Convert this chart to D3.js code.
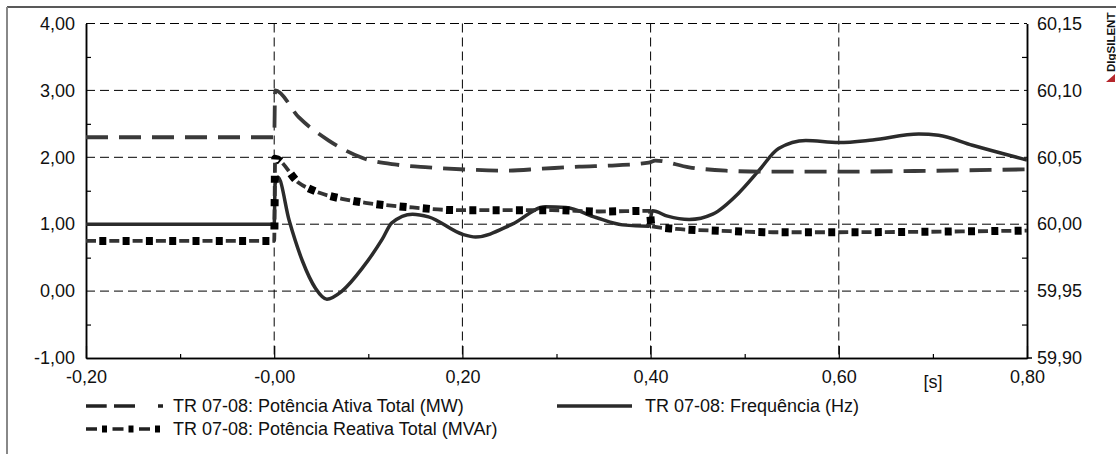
<!DOCTYPE html>
<html>
<head>
<meta charset="utf-8">
<script src="https://cdn.jsdelivr.net/npm/d3@7"></script>
<style>
  body { margin: 0; background: #fff; }
  svg text { font-family: "Liberation Sans", Arial, sans-serif; fill: #111; }
</style>
</head>
<body>
<svg id="chart" width="1116" height="454"></svg>
<script>
// time axis (s)
const xTicks = [-0.2, 0, 0.2, 0.4, 0.6, 0.8];
const xTickLabels = ["-0,20", "-0,00", "0,20", "0,40", "0,60", "0,80"];
const xUnitLabel = "[s]";

// left axis (MW / MVAr)
const leftTicks = [-1, 0, 1, 2, 3, 4];
const leftTickLabels = ["-1,00", "0,00", "1,00", "2,00", "3,00", "4,00"];

// right axis (Hz)
const rightTicks = [59.90, 59.95, 60.00, 60.05, 60.10, 60.15];
const rightTickLabels = ["59,90", "59,95", "60,00", "60,05", "60,10", "60,15"];

// TR 07-08: Potência Ativa Total (MW)
const ativaT  = [-0.2, 0, 0.001, 0.026, 0.058, 0.094, 0.13, 0.164, 0.207, 0.246, 0.285, 0.324, 0.363, 0.398, 0.405, 0.441, 0.48, 0.518, 0.6, 0.68, 0.8];
const ativaMW = [2.30, 2.30, 3.00, 2.60, 2.25, 1.99, 1.89, 1.85, 1.815, 1.80, 1.83, 1.86, 1.88, 1.92, 1.95, 1.85, 1.80, 1.785, 1.785, 1.795, 1.82];

// TR 07-08: Potência Reativa Total (MVAr)
const reativaT    = [-0.2, 0, 0.001, 0.026, 0.048, 0.072, 0.097, 0.122, 0.147, 0.194, 0.25, 0.295, 0.345, 0.399, 0.401, 0.427, 0.476, 0.53, 0.6, 0.678, 0.777, 0.8];
const reativaMVAr = [0.75, 0.75, 1.98, 1.62, 1.47, 1.38, 1.32, 1.28, 1.25, 1.21, 1.21, 1.21, 1.19, 1.20, 0.97, 0.93, 0.90, 0.88, 0.88, 0.885, 0.90, 0.905];

// TR 07-08: Frequência (Hz)
const freqT  = [-0.2, 0, 0.001, 0.004, 0.016, 0.03, 0.044, 0.056, 0.072, 0.094, 0.115, 0.125, 0.147, 0.164, 0.2, 0.214, 0.253, 0.288, 0.31, 0.342, 0.37, 0.398, 0.402, 0.418, 0.441, 0.466, 0.494, 0.515, 0.536, 0.565, 0.6, 0.636, 0.685, 0.706, 0.742, 0.8];
const freqHz = [60.0, 60.0, 60.030, 60.035, 60.0025, 59.9725, 59.952, 59.944, 59.950, 59.9675, 59.989, 60.001, 60.0075, 60.0055, 59.9925, 59.9905, 60.0, 60.013, 60.0125, 60.005, 59.9995, 59.9985, 60.010, 60.006, 60.0035, 60.0075, 60.0235, 60.040, 60.0565, 60.0625, 60.061, 60.063, 60.0675, 60.0665, 60.059, 60.048];

const legendLabels = [
  "TR 07-08: Potência Ativa Total (MW)",
  "TR 07-08: Frequência (Hz)",
  "TR 07-08: Potência Reativa Total (MVAr)"
];

let svg = d3.select("#chart");

let plotLeft = 86, plotRight = 1027, plotTop = 23.5, plotBottom = 358;

let xscale = d3.scaleLinear().domain([-0.2, 0.8]).range([plotLeft, plotRight]);
let yLeft = d3.scaleLinear().domain([-1, 4]).range([plotBottom, plotTop]);
let yRight = d3.scaleLinear().domain([59.90, 60.15]).range([plotBottom, plotTop]);

// outer frame (top and left edges only)
svg.append("line")
   .attr("x1", 7).attr("x2", 1116).attr("y1", 7).attr("y2", 7)
   .attr("stroke", "#222").attr("stroke-width", 1.5);
svg.append("line")
   .attr("x1", 7).attr("x2", 7).attr("y1", 7).attr("y2", 454)
   .attr("stroke", "#888").attr("stroke-width", 2);

// grid
let grid = svg.append("g").attr("stroke", "#000").attr("stroke-width", 1).attr("stroke-dasharray", "9,5");
grid.selectAll(".hgrid")
    .data(leftTicks.filter(d => d > -1))
    .enter().append("line")
    .attr("class", "hgrid")
    .attr("x1", plotLeft).attr("x2", plotRight)
    .attr("y1", d => yLeft(d)).attr("y2", d => yLeft(d));
grid.selectAll(".vgrid")
    .data(xTicks.filter(d => d > -0.2 && d < 0.8))
    .enter().append("line")
    .attr("class", "vgrid")
    .attr("x1", d => xscale(d)).attr("x2", d => xscale(d))
    .attr("y1", plotTop).attr("y2", plotBottom);

// axes
let xaxis = d3.axisBottom(xscale)
              .tickValues(xTicks)
              .tickFormat((d, i) => xTickLabels[i])
              .tickSizeInner(-12)
              .tickSizeOuter(0)
              .tickPadding(12);
let xminor = d3.axisBottom(xscale)
               .tickValues([-0.1, 0.1, 0.3, 0.5, 0.7])
               .tickFormat("")
               .tickSizeInner(-4)
               .tickSizeOuter(0);
let yaxisL = d3.axisLeft(yLeft)
               .tickValues(leftTicks)
               .tickFormat((d, i) => leftTickLabels[i])
               .tickSizeInner(0)
               .tickSizeOuter(0)
               .tickPadding(11);
let yminorL = d3.axisLeft(yLeft)
                .tickValues([-0.5, 0.5, 1.5, 2.5, 3.5])
                .tickFormat("")
                .tickSizeInner(-5)
                .tickSizeOuter(0);
let yaxisR = d3.axisRight(yRight)
               .tickValues(rightTicks)
               .tickFormat((d, i) => rightTickLabels[i])
               .tickSizeInner(0)
               .tickSizeOuter(0)
               .tickPadding(10);
let yminorR = d3.axisRight(yRight)
                .tickValues([59.925, 59.975, 60.025, 60.075, 60.125])
                .tickFormat("")
                .tickSizeInner(-5)
                .tickSizeOuter(0);

function styleAxis(g) {
  g.select(".domain").attr("stroke", "#000").attr("stroke-width", 1.5);
  g.selectAll(".tick line").attr("stroke", "#000").attr("stroke-width", 1.2);
  g.selectAll(".tick text")
   .attr("font-size", 18)
   .attr("font-family", "'Liberation Sans', Arial, sans-serif")
   .attr("fill", "#111");
}

svg.append("g").attr("transform", `translate(0,${plotBottom})`).call(xaxis).call(styleAxis);
svg.append("g").attr("transform", `translate(0,${plotBottom})`).call(xminor).call(styleAxis);
svg.append("g").attr("transform", `translate(${plotLeft},0)`).call(yaxisL).call(styleAxis);
svg.append("g").attr("transform", `translate(${plotLeft},0)`).call(yminorL).call(styleAxis);
svg.append("g").attr("transform", `translate(${plotRight},0)`).call(yaxisR).call(styleAxis);
svg.append("g").attr("transform", `translate(${plotRight},0)`).call(yminorR).call(styleAxis);

// small outward tick at the bottom right corner
svg.append("line")
   .attr("x1", plotRight).attr("x2", plotRight + 5)
   .attr("y1", yRight(59.90)).attr("y2", yRight(59.90))
   .attr("stroke", "#000").attr("stroke-width", 1.5);

// unit label of the time axis
svg.append("text")
   .attr("x", xscale(0.7)).attr("y", plotBottom + 30)
   .attr("text-anchor", "middle")
   .attr("font-size", 18)
   .text(xUnitLabel);

// curves
svg.append("clipPath").attr("id", "plotClip")
   .append("rect")
   .attr("x", plotLeft).attr("y", plotTop - 4)
   .attr("width", plotRight - plotLeft).attr("height", plotBottom - plotTop + 8);

let curves = svg.append("g").attr("clip-path", "url(#plotClip)");

let lineLeft = d3.line()
                 .x(d => xscale(d[0]))
                 .y(d => yLeft(d[1]))
                 .curve(d3.curveMonotoneX);
let lineRight = d3.line()
                  .x(d => xscale(d[0]))
                  .y(d => yRight(d[1]))
                  .curve(d3.curveMonotoneX);

let ativaData = ativaT.map((t, i) => [t, ativaMW[i]]);
let reativaData = reativaT.map((t, i) => [t, reativaMVAr[i]]);
let freqData = freqT.map((t, i) => [t, freqHz[i]]);

curves.append("path")
      .datum(freqData)
      .attr("d", lineRight)
      .attr("fill", "none")
      .attr("stroke", "#2b2b2b")
      .attr("stroke-width", 3.5);

curves.append("path")
      .datum(ativaData)
      .attr("d", lineLeft)
      .attr("fill", "none")
      .attr("stroke", "#3a3a3a")
      .attr("stroke-width", 3.8)
      .attr("stroke-dasharray", "22,11");

curves.append("path")
      .datum(reativaData)
      .attr("d", lineLeft)
      .attr("fill", "none")
      .attr("stroke", "#333")
      .attr("stroke-width", 3.8)
      .attr("stroke-dasharray", "10,13.3");
curves.append("path")
      .datum(reativaData)
      .attr("d", lineLeft)
      .attr("fill", "none")
      .attr("stroke", "#000")
      .attr("stroke-width", 8)
      .attr("stroke-dasharray", "0,13.3,7,3");

// legend
let legend = svg.append("g");
legend.append("line")
      .attr("x1", 86).attr("x2", 163).attr("y1", 406).attr("y2", 406)
      .attr("stroke", "#222").attr("stroke-width", 3.5)
      .attr("stroke-dasharray", "20.7,7.3,21,23,5");
legend.append("line")
      .attr("x1", 557).attr("x2", 632).attr("y1", 406).attr("y2", 406)
      .attr("stroke", "#2b2b2b").attr("stroke-width", 3.5);
legend.append("line")
      .attr("x1", 86).attr("x2", 163).attr("y1", 429).attr("y2", 429)
      .attr("stroke", "#222").attr("stroke-width", 3.5)
      .attr("stroke-dasharray", "11,15.5");
legend.append("line")
      .attr("x1", 86).attr("x2", 163).attr("y1", 429).attr("y2", 429)
      .attr("stroke", "#000").attr("stroke-width", 7)
      .attr("stroke-dasharray", "0,16,5,5.5");

legend.selectAll(".ltext")
      .data(legendLabels)
      .enter().append("text")
      .attr("class", "ltext")
      .attr("x", (d, i) => i == 1 ? 645 : 173)
      .attr("y", (d, i) => i == 2 ? 435 : 412)
      .attr("font-size", 18)
      .text(d => d);

// DIgSILENT mark
svg.append("text")
   .attr("transform", "translate(1115,72) rotate(-90)")
   .attr("font-size", 11.5)
   .attr("font-weight", "bold")
   .attr("fill", "#333")
   .text("DIgSILENT");
svg.append("polygon")
   .attr("points", "1115,74 1115,82 1106,82")
   .attr("fill", "#b5262b");
</script>
</body>
</html>
